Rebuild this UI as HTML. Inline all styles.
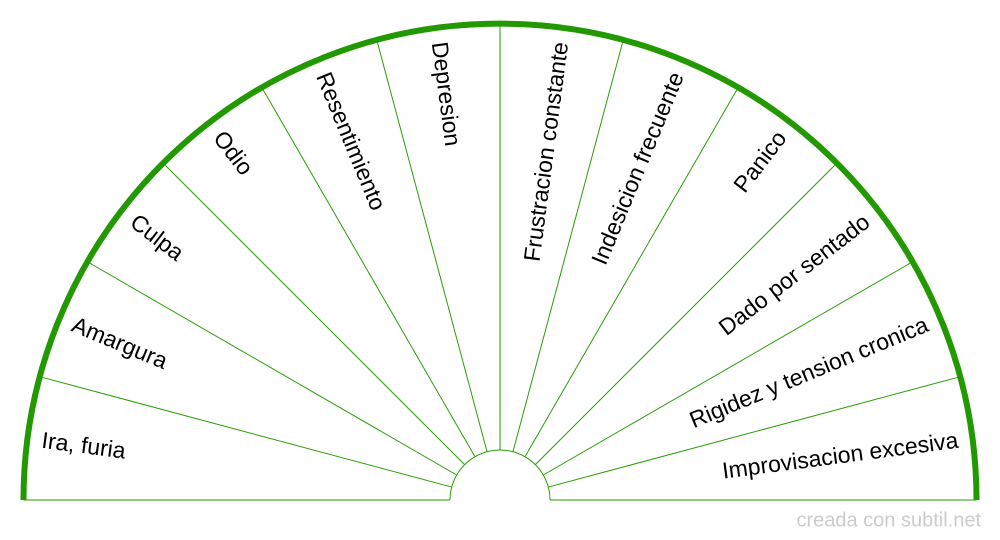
<!DOCTYPE html>
<html>
<head>
<meta charset="utf-8">
<style>
  html, body { margin: 0; padding: 0; background: #ffffff; }
  body { width: 1000px; height: 540px; overflow: hidden; }
  svg { display: block; }
  text { font-family: "Liberation Sans", Arial, sans-serif; }
</style>
</head>
<body>
<svg width="1000" height="540" viewBox="0 0 1000 540" xmlns="http://www.w3.org/2000/svg">
  <rect width="1000" height="540" fill="#ffffff"/>
  <!-- radial lines -->
  <g stroke="#2a9e08" stroke-width="1" fill="none">
    <line x1="451.70" y1="487.06" x2="39.74" y2="376.68"/>
    <line x1="456.70" y1="475.00" x2="87.34" y2="261.75"/>
    <line x1="464.64" y1="464.64" x2="162.88" y2="162.88"/>
    <line x1="475.00" y1="456.70" x2="261.75" y2="87.34"/>
    <line x1="487.06" y1="451.70" x2="376.68" y2="39.74"/>
    <line x1="500" y1="450" x2="500" y2="23.5"/>
    <line x1="512.94" y1="451.70" x2="623.32" y2="39.74"/>
    <line x1="525.00" y1="456.70" x2="738.25" y2="87.34"/>
    <line x1="535.36" y1="464.64" x2="837.12" y2="162.88"/>
    <line x1="543.30" y1="475.00" x2="912.66" y2="261.75"/>
    <line x1="548.30" y1="487.06" x2="960.26" y2="376.68"/>
    <!-- baseline -->
    <line x1="23.5" y1="500" x2="450" y2="500"/>
    <line x1="550" y1="500" x2="976.5" y2="500"/>
    <!-- inner semicircle -->
    <path d="M 450 500 A 50 50 0 0 1 550 500"/>
  </g>
  <!-- outer arc -->
  <path d="M 23.5 500 A 476.5 476.5 0 0 1 976.5 500" stroke="#229900" stroke-width="6" fill="none"/>

  <!-- labels -->
  <g font-size="23" fill="#000" dominant-baseline="central">
    <text x="41.96" y="439.70" text-anchor="start" transform="rotate(7.5 41.96 439.70)">Ira, furia</text>
    <text x="73.17" y="323.20" text-anchor="start" transform="rotate(22.5 73.17 323.20)">Amargura</text>
    <text x="133.47" y="218.75" text-anchor="start" transform="rotate(37.5 133.47 218.75)">Culpa</text>
    <text x="218.75" y="133.47" text-anchor="start" transform="rotate(52.5 218.75 133.47)">Odio</text>
    <text x="323.20" y="73.17" text-anchor="start" transform="rotate(67.5 323.20 73.17)">Resentimiento</text>
    <text x="439.70" y="41.96" text-anchor="start" transform="rotate(82.5 439.70 41.96)">Depresion</text>

    <text x="560.30" y="41.96" text-anchor="end" transform="rotate(-82.5 560.30 41.96)">Frustracion constante</text>
    <text x="676.80" y="73.17" text-anchor="end" transform="rotate(-67.5 676.80 73.17)">Indesicion frecuente</text>
    <text x="781.25" y="133.47" text-anchor="end" transform="rotate(-52.5 781.25 133.47)">Panico</text>
    <text x="866.53" y="218.75" text-anchor="end" transform="rotate(-37.5 866.53 218.75)">Dado por sentado</text>
    <text x="926.83" y="323.20" text-anchor="end" transform="rotate(-22.5 926.83 323.20)">Rigidez y tension cronica</text>
    <text x="958.04" y="439.70" text-anchor="end" transform="rotate(-7.5 958.04 439.70)">Improvisacion excesiva</text>
  </g>

  <!-- watermark -->
  <text x="981" y="526.5" text-anchor="end" font-size="20" fill="#cccccc">creada con subtil.net</text>
</svg>
</body>
</html>
